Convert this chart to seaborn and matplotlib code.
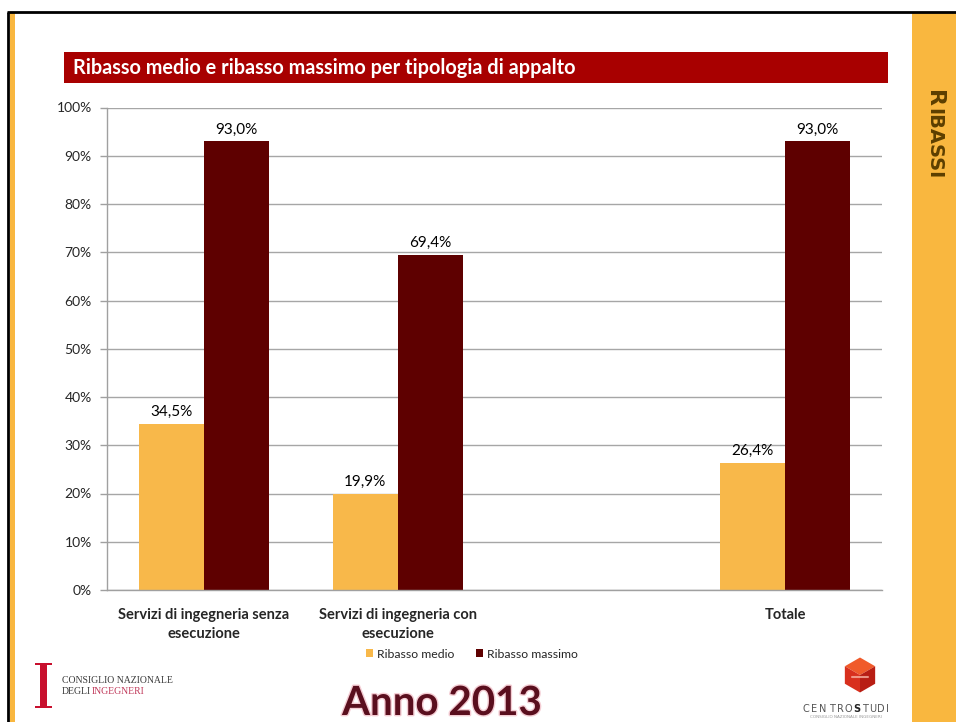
import matplotlib
matplotlib.use("Agg")
import matplotlib.pyplot as plt
import matplotlib.patheffects as pe
from matplotlib.patches import Rectangle, Polygon
import numpy as np
import pandas as pd
import seaborn as sns

# ---- data ----
categorie = ["Servizi di ingegneria senza\nesecuzione",
             "Servizi di ingegneria con\nesecuzione",
             " ",
             "Totale"]
serie = ["Ribasso medio", "Ribasso massimo"]
ribasso_medio = [34.5, 19.9, np.nan, 26.4]
ribasso_massimo = [93.0, 69.4, np.nan, 93.0]
y_ticks = [0, 10, 20, 30, 40, 50, 60, 70, 80, 90, 100]
colori = ["#F8B84A", "#5E0000"]

df = pd.DataFrame({
    "categoria": categorie * 2,
    "serie": [serie[0]] * len(categorie) + [serie[1]] * len(categorie),
    "valore": ribasso_medio + ribasso_massimo,
}).dropna()

sns.set_style("white")
plt.rcParams["font.family"] = ["Lato", "DejaVu Sans"]

W, H = 956, 722
fig = plt.figure(figsize=(W / 100, H / 100), dpi=100)
fig.patch.set_facecolor("white")

# page decoration layer in pixel coordinates
bg = fig.add_axes([0, 0, 1, 1], zorder=0)
bg.set_xlim(0, W)
bg.set_ylim(H, 0)
bg.axis("off")

arancio = "#F9B73F"
bg.add_patch(Rectangle((10, 13), 5, H - 13, color=arancio, lw=0))
bg.add_patch(Rectangle((912, 13), W - 912, H - 13, color=arancio, lw=0))
bg.plot([7, W], [12, 12], color="black", lw=2, solid_capstyle="butt")
bg.plot([8.3, 8.3], [12, H], color="black", lw=2, solid_capstyle="butt")

# side label (small caps)
marrone = "#5C3F00"
bg.text(928, 90, "R", rotation=270, rotation_mode="anchor", ha="left",
        va="baseline", fontsize=16, fontweight="bold", color=marrone,
        family="DejaVu Sans")
bg.text(928, 108, "IBASSI", rotation=270, rotation_mode="anchor", ha="left",
        va="baseline", fontsize=14, fontweight="bold", color=marrone,
        family="DejaVu Sans")

# title bar
bg.add_patch(Rectangle((64, 52), 824, 31, color="#A80000", lw=0))
bg.text(73, 68, "Ribasso medio e ribasso massimo per tipologia di appalto",
        color="white", fontsize=14.3, fontweight="bold", va="center", ha="left")

# ---- chart ----
x0, x1, y0, y1 = 107, 882, 107.5, 590
ax = fig.add_axes([x0 / W, 1 - y1 / H, (x1 - x0) / W, (y1 - y0) / H], zorder=1)
sns.barplot(data=df, x="categoria", y="valore", hue="serie", order=categorie,
            hue_order=serie, palette=colori, saturation=1, width=0.67,
            linewidth=0, ax=ax, errorbar=None)

handles, labels = ax.get_legend_handles_labels()
if ax.get_legend() is not None:
    ax.get_legend().remove()

for cont in ax.containers:
    ax.bar_label(cont, labels=[f"{v:.1f}%".replace(".", ",") for v in cont.datavalues],
                 padding=3.5, fontsize=11, color="black")

ax.set_xlim(-0.5, len(categorie) - 0.5)
ax.set_ylim(0, 100)
ax.set_yticks(y_ticks)
ax.set_yticklabels([f"{t}%" for t in y_ticks], fontsize=10)
ax.set_xticks(range(len(categorie)))
ax.set_xticklabels(categorie, fontsize=10.5, fontweight="bold", linespacing=1.45)
ax.set_xticks(np.arange(-0.5, len(categorie), 1.0), minor=True)
ax.tick_params(axis="x", which="major", length=0, pad=13)
ax.tick_params(axis="x", which="minor", length=5, color="#A0A0A0", width=1, direction="out")
ax.tick_params(axis="y", length=5, color="#A0A0A0", width=1, direction="out", pad=6, left=True)
ax.set_xlabel("")
ax.set_ylabel("")
ax.grid(axis="y", color="#A6A6A6", lw=1)
ax.set_axisbelow(True)
for s in ["top", "right"]:
    ax.spines[s].set_visible(False)
for s in ["left", "bottom"]:
    ax.spines[s].set_color("#A0A0A0")
    ax.spines[s].set_linewidth(1)

fig.legend(handles, labels, loc="center", bbox_to_anchor=(472 / W, 1 - 654 / H),
           ncol=2, frameon=False, fontsize=8.8, handlelength=0.6, handleheight=0.6,
           handletextpad=0.35, columnspacing=1.7)

# ---- footer ----
rosso_cni = "#C8102E"
bg.add_patch(Rectangle((40.5, 664), 6.5, 44, color=rosso_cni, lw=0))
bg.add_patch(Rectangle((35, 663), 17.5, 2.2, color=rosso_cni, lw=0))
bg.add_patch(Rectangle((35, 706), 17.5, 2.2, color=rosso_cni, lw=0))
bg.text(62, 683, "CONSIGLIO NAZIONALE", fontsize=7, family="Liberation Serif",
        color="#3A3A3A", va="baseline")
bg.text(62, 694.5, "DEGLI", fontsize=7, family="Liberation Serif",
        color="#3A3A3A", va="baseline")
bg.text(92, 694.5, "INGEGNERI", fontsize=7, family="Liberation Serif",
        color="#C0395A", va="baseline")

bg.text(442, 715, "Anno 2013", fontsize=29, fontweight="bold", color="#5A0F1E",
        ha="center", va="baseline",
        path_effects=[pe.withStroke(linewidth=2, foreground="#F4CCD3")])

# centro studi mark
cx, cy, r = 860, 675, 17.5
ang = np.deg2rad(np.array([90, 150, 210, 270, 330, 30]))
pts = np.c_[cx + r * np.cos(ang), cy - r * np.sin(ang)]
c = np.array([cx, cy])
bg.add_patch(Polygon([pts[0], pts[1], c, pts[5]], color="#F05A2A", lw=0))
bg.add_patch(Polygon([pts[1], pts[2], pts[3], c], color="#D8301E", lw=0))
bg.add_patch(Polygon([pts[5], c, pts[3], pts[4]], color="#B81E14", lw=0))
bg.plot([cx - 8, cx + 8], [cy + 2, cy + 2], color="#F7B0A0", lw=1.5, alpha=0.8)
lettere = "CENTROSTUDI"
posizioni = [806, 814.5, 823, 831.5, 840, 848.5, 857, 865, 873, 881, 887.5]
for i, ch in enumerate(lettere):
    bold = (i == 6)
    bg.text(posizioni[i], 712, ch, fontsize=7, ha="center", va="baseline",
            color="#222222" if bold else "#555555",
            fontweight="bold" if bold else "normal", family="DejaVu Sans")
bg.text(846, 718, "CONSIGLIO NAZIONALE INGEGNERI", fontsize=3, color="#999999",
        ha="center", va="baseline", family="DejaVu Sans")

fig.savefig("out.png", dpi=100)
